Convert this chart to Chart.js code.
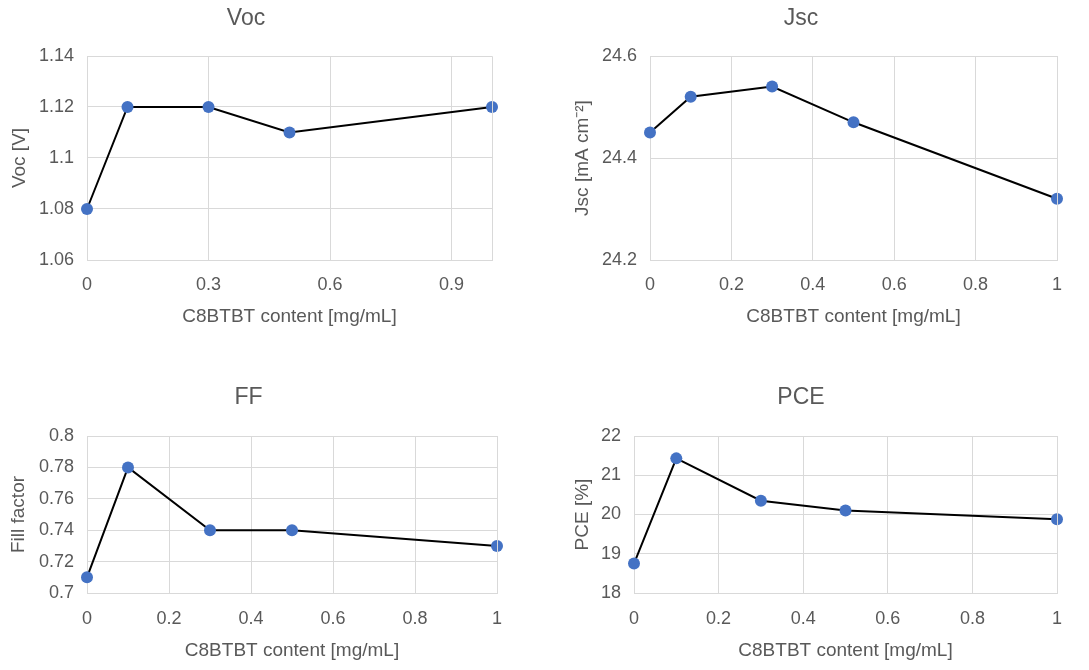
<!DOCTYPE html>
<html>
<head>
<meta charset="utf-8">
<script src="https://cdn.jsdelivr.net/npm/chart.js@4.4.1/dist/chart.umd.min.js"></script>
<style>
	html, body { margin: 0; padding: 0; background: #fff; }
	body { width: 1089px; height: 670px; position: relative; overflow: hidden; }
	canvas { position: absolute; }
</style>
</head>
<body>
<canvas id="vocChart" width="502" height="335" style="left:0px;top:0px"></canvas>
<canvas id="jscChart" width="535" height="335" style="left:545px;top:0px"></canvas>
<canvas id="ffChart" width="504" height="290" style="left:0px;top:380px"></canvas>
<canvas id="pceChart" width="535" height="290" style="left:545px;top:380px"></canvas>
<script>
// C8BTBT content [mg/mL]
const content = [0, 0.1, 0.3, 0.5, 1];

const voc = [1.08, 1.12, 1.12, 1.11, 1.12];
const jsc = [24.45, 24.52, 24.54, 24.47, 24.32];
const ff = [0.71, 0.78, 0.74, 0.74, 0.73];
const pce = [18.75, 21.43, 20.35, 20.1, 19.88];

const vocXTicks = [0, 0.3, 0.6, 0.9];
const xTicks = [0, 0.2, 0.4, 0.6, 0.8, 1];
const vocYTicks = [1.06, 1.08, 1.1, 1.12, 1.14];
const jscYTicks = [24.2, 24.4, 24.6];
const ffYTicks = [0.7, 0.72, 0.74, 0.76, 0.78, 0.8];
const pceYTicks = [18, 19, 20, 21, 22];

const xLabel = "C8BTBT content [mg/mL]";
const gridColor = "#d9d9d9";
const textColor = "#595959";
const fontFamily = "'Liberation Sans', Arial, sans-serif";

// 엑셀처럼 불필요한 0 없이 표시 (1.10 -> 1.1)
const tickText = (v) => String(Number(Number(v).toFixed(4)));

// 플롯 영역 테두리 (오른쪽/위쪽)
const frameLines = {
	id: "frameLines",
	afterDraw(chart) {
		const { ctx, chartArea } = chart;
		ctx.save();
		ctx.strokeStyle = gridColor;
		ctx.lineWidth = 1;
		ctx.beginPath();
		ctx.moveTo(chartArea.left, chartArea.top + 0.5);
		ctx.lineTo(chartArea.right + 0.5, chartArea.top + 0.5);
		ctx.lineTo(chartArea.right + 0.5, chartArea.bottom);
		ctx.stroke();
		ctx.restore();
	},
};

const makeChart = (id, title, yTitle, values, xTickList, yTickList, box) => {
	const ctx = document.getElementById(id).getContext("2d");
	return new Chart(ctx, {
		type: "line",
		data: {
			datasets: [
				{
					data: content.map((x, i) => ({ x: x, y: values[i] })),
					borderColor: "#000000",
					borderWidth: 2,
					pointRadius: 6,
					pointBorderWidth: 0,
					pointBackgroundColor: "#4472C4",
					pointBorderColor: "#4472C4",
					tension: 0,
					clip: false,
				},
			],
		},
		options: {
			responsive: false,
			animation: false,
			layout: { padding: { left: 0, right: box.padRight, top: 0, bottom: 0 } },
			plugins: {
				legend: { display: false },
				tooltip: { enabled: false },
				title: {
					display: true,
					text: title,
					color: textColor,
					font: { family: fontFamily, size: 23, weight: "normal" },
					padding: { top: box.titleTop, bottom: 56 - 27.6 - box.titleTop },
				},
			},
			scales: {
				x: {
					type: "linear",
					min: 0,
					max: 1,
					afterBuildTicks: (axis) => {
						axis.ticks = xTickList.map((v) => ({ value: v }));
					},
					afterFit: (axis) => {
						axis.height = box.xHeight;
						// 라벨 여백 때문에 플롯 영역이 줄어들지 않게
						axis.paddingLeft = 0;
						axis.paddingRight = 0;
					},
					grid: { color: gridColor, drawTicks: false },
					border: { color: gridColor },
					ticks: {
						color: textColor,
						padding: box.xTickPad,
						maxRotation: 0,
						font: { family: fontFamily, size: 18 },
						callback: tickText,
					},
					title: {
						display: true,
						text: xLabel,
						color: textColor,
						font: { family: fontFamily, size: 19 },
						padding: { top: 0, bottom: box.xTitlePad },
					},
				},
				y: {
					min: yTickList[0],
					max: yTickList[yTickList.length - 1],
					afterBuildTicks: (axis) => {
						axis.ticks = yTickList.map((v) => ({ value: v }));
					},
					afterFit: (axis) => {
						axis.width = box.yWidth;
					},
					grid: { color: gridColor, drawTicks: false },
					border: { color: gridColor },
					ticks: {
						color: textColor,
						padding: 13,
						font: { family: fontFamily, size: 18 },
						callback: tickText,
					},
					title: {
						display: true,
						text: yTitle,
						color: textColor,
						font: { family: fontFamily, size: 19 },
						padding: { top: box.yTitlePad, bottom: 0 },
					},
				},
			},
		},
		plugins: [frameLines],
	});
};

makeChart("vocChart", "Voc", "Voc [V]", voc, vocXTicks, vocYTicks, {
	padRight: 10, titleTop: 5.2, xHeight: 75, xTickPad: 14, xTitlePad: 7, yWidth: 87, yTitlePad: 8.6,
});
makeChart("jscChart", "Jsc", "Jsc [mA cm\u207B\u00B2]", jsc, xTicks, jscYTicks, {
	padRight: 23, titleTop: 5.2, xHeight: 75, xTickPad: 14, xTitlePad: 7, yWidth: 105, yTitlePad: 26.6,
});
makeChart("ffChart", "FF", "Fill factor", ff, xTicks, ffYTicks, {
	padRight: 7, titleTop: 4.2, xHeight: 77, xTickPad: 15, xTitlePad: 8, yWidth: 87, yTitlePad: 7.6,
});
makeChart("pceChart", "PCE", "PCE [%]", pce, xTicks, pceYTicks, {
	padRight: 23, titleTop: 4.2, xHeight: 77, xTickPad: 15, xTitlePad: 8, yWidth: 89, yTitlePad: 26.6,
});
</script>
</body>
</html>
